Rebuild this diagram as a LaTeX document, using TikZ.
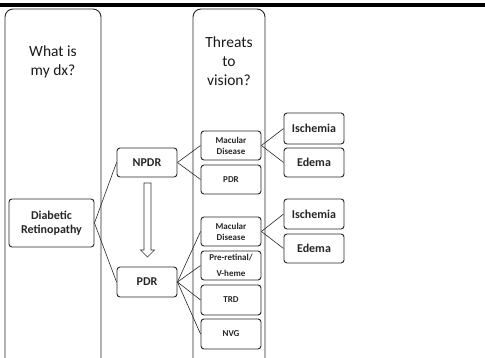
\documentclass[tikz,border=0pt]{standalone}
\usepackage{fontspec}
\setmainfont{Carlito}
\begin{document}
\begin{tikzpicture}[x=1pt,y=-1pt,
  colbox/.style={draw=black!85, rounded corners=8pt, line width=0.9pt, inner sep=0pt},
  title/.style={font=\fontsize{15.5}{19}\selectfont, align=center, inner sep=0pt, text=black!90},
  box/.style={draw=black!85, rounded corners=3pt, line width=0.9pt, align=center, inner sep=0pt,
    minimum width=60pt, minimum height=29pt, font=\bfseries\fontsize{12}{14}\selectfont, text=black!85},
  sbox/.style={box, font=\bfseries\fontsize{9}{11}\selectfont},
  link/.style={line width=0.6pt, black!85},
  hollow/.style={draw=black!80, line width=0.6pt, fill=white}]
\useasboundingbox (0,0) rectangle (485,358);
\clip (0,0) rectangle (485,358);
% top bar
\coordinate (barL) at (0,5.5);
\coordinate (barR) at (485,5.5);
\draw[line width=4pt] (barL) -- (barR);
% columns
\node[colbox, minimum width=96pt, minimum height=362pt] (col1) at (53,190) {};
\node[colbox, minimum width=72pt, minimum height=362pt] (col2) at (229,190) {};
\node[title] (q1) at (53,62) {What is\\my dx?};
\node[title] (q2) at (229,61) {Threats\\to\\vision?};
% boxes
\node[box, minimum width=85pt, minimum height=48pt] (dr) at (51.5,223) {Diabetic\\Retinopathy};
\node[box] (npdr) at (147,162.5) {NPDR};
\node[box, minimum height=30pt] (pdr) at (147,282) {PDR};
\node[sbox] (mac1) at (231,145.5) {Macular\\Disease};
\node[sbox] (pdr2) at (231,179.5) {PDR};
\node[sbox] (mac2) at (231,231.5) {Macular\\Disease};
\node[sbox, font=\bfseries\fontsize{9}{16}\selectfont] (pre) at (231,265.5) {Pre-retinal/\\V-heme};
\node[sbox, minimum height=30pt] (trd) at (231,300) {TRD};
\node[sbox, minimum height=30pt] (nvg) at (231,334) {NVG};
\node[box, minimum height=31pt] (isc1) at (314,128.5) {Ischemia};
\node[box] (ede1) at (314,162.5) {Edema};
\node[box, minimum height=30pt] (isc2) at (314,214) {Ischemia};
\node[box] (ede2) at (314,248.5) {Edema};
% connectors
\draw[link] (dr.east) -- (npdr.west);
\draw[link] (dr.east) -- (pdr.west);
\draw[link] (npdr.east) -- (mac1.west);
\draw[link] (npdr.east) -- (pdr2.west);
\draw[link] (mac1.east) -- (isc1.west);
\draw[link] (mac1.east) -- (ede1.west);
\draw[link] (pdr.east) -- (mac2.west);
\draw[link] (pdr.east) -- (pre.west);
\draw[link] (pdr.east) -- (trd.west);
\draw[link] (pdr.east) -- (nvg.west);
\draw[link] (mac2.east) -- (isc2.west);
\draw[link] (mac2.east) -- (ede2.west);
% hollow arrow NPDR -> PDR
\draw[hollow] (144,183) -- (151,183) -- (151,250) -- (154.5,250) -- (147.5,257) -- (140.5,250) -- (144,250) -- cycle;
\end{tikzpicture}
\end{document}
